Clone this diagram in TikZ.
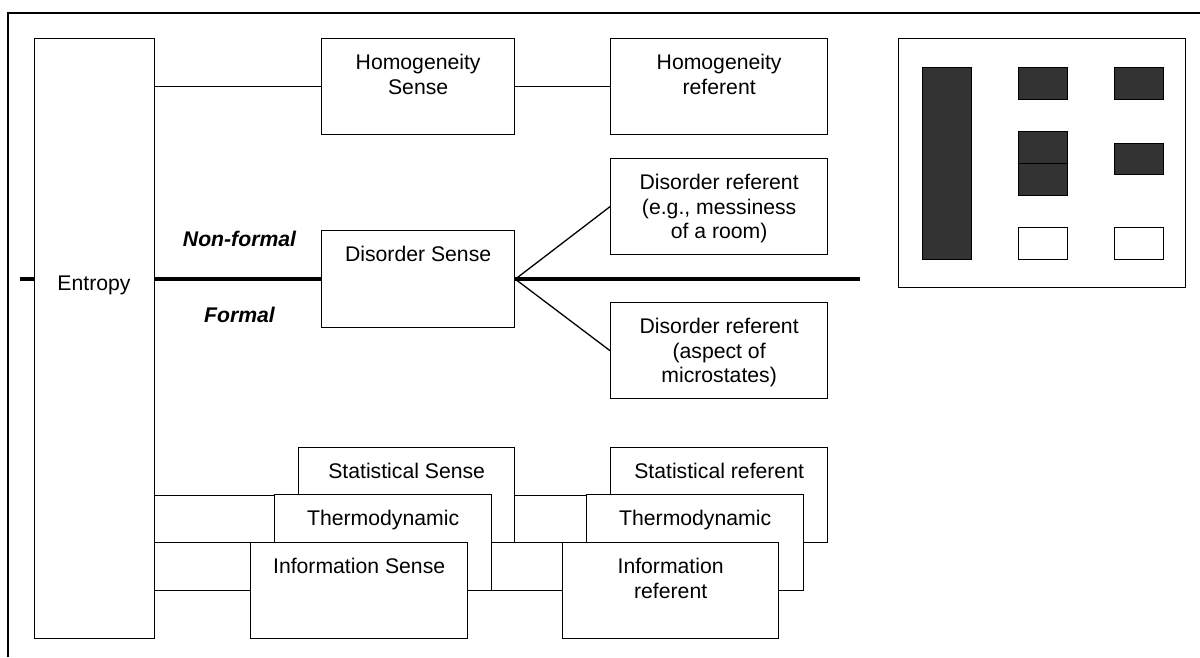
\documentclass[tikz,border=0pt]{standalone}
\usepackage{fontspec}
\setmainfont{Liberation Sans}
\definecolor{legdark}{HTML}{333333}
\begin{document}
\begin{tikzpicture}[x=1pt,y=-1pt,
  box/.style={draw, line width=1.3pt, fill=white, inner sep=0pt, anchor=north west},
  darkbox/.style={box, fill=legdark},
  lbl/.style={font=\fontsize{21.2}{24.4}\selectfont, align=center, inner sep=0pt, anchor=north},
  tag/.style={font=\fontsize{21.2}{24.4}\selectfont\bfseries\itshape, inner sep=0pt, anchor=base},
  link/.style={line width=1.3pt},
  divide/.style={line width=4.2pt}]
\useasboundingbox (0,0) rectangle (1200,657);

% outer frame
\draw[line width=1.5pt] (8,657) -- (8,13) -- (1200,13);

% main column and the disorder branch
\node[box, minimum width=120pt, minimum height=600pt] (ent) at (34,38) {};
\node[tag] (enttxt) at (94,290.6) {\mdseries\upshape Entropy};

\node[box, minimum width=193pt, minimum height=96pt] (hs) at (321,38) {};
\node[lbl] (hstxt) at ([yshift=-14.5pt]hs.north) {\strut Homogeneity\\Sense};
\node[box, minimum width=217pt, minimum height=96pt] (hr) at (610,38) {};
\node[lbl] (hrtxt) at ([yshift=-14.5pt]hr.north) {\strut Homogeneity\\referent};

\node[box, minimum width=217pt, minimum height=96pt] (dr1) at (610,158) {};
\node[lbl] (dr1txt) at ([yshift=-14.5pt]dr1.north) {\strut Disorder referent\\(e.g., messiness\\of a room)};
\node[box, minimum width=193pt, minimum height=97pt] (ds) at (321,230) {};
\node[lbl] (dstxt) at ([yshift=-14.5pt]ds.north) {\strut Disorder Sense};
\node[box, minimum width=217pt, minimum height=96pt] (dr2) at (610,302) {};
\node[lbl] (dr2txt) at ([yshift=-14.5pt]dr2.north) {\strut Disorder referent\\(aspect of\\microstates)};

\node[tag] (nf) at (239.5,246.6) {Non-formal};
\node[tag] (fm) at (239.5,322.6) {Formal};

% the formal / non-formal divide
\coordinate (divL) at (ds.west -| 20,0);
\coordinate (divR) at (ds.east -| 860,0);
\draw[divide] (divL) -- (divL -| ent.west);
\draw[divide] (ds.west -| ent.east) -- (ds.west);
\draw[divide] (ds.east) -- (divR);

\draw[link] (hs.west -| ent.east) -- (hs.west);
\draw[link] (hs.east) -- (hr.west);
\draw[link] (ds.east) -- (dr1.west);
\draw[link] (ds.east) -- (dr2.west);

% stacked senses and referents, back to front
\node[box, minimum width=216pt, minimum height=95pt] (ss) at (298,447) {};
\node[box, minimum width=217pt, minimum height=95pt] (sr) at (610,447) {};
\draw[link] (ss.west -| ent.east) -- (ss.west);
\draw[link] (ss.east) -- (sr.west);
\node[lbl] (sstxt) at ([yshift=-14.5pt]ss.north) {\strut Statistical Sense};
\node[lbl] (srtxt) at ([yshift=-14.5pt]sr.north) {\strut Statistical referent};

\node[box, minimum width=217pt, minimum height=96pt] (ts) at (274,494) {};
\node[box, minimum width=217pt, minimum height=96pt] (tr) at (586,494) {};
\draw[link] (ts.west -| ent.east) -- (ts.west);
\draw[link] (ts.east) -- (tr.west);
\node[lbl] (tstxt) at ([yshift=-14.5pt]ts.north) {\strut Thermodynamic};
\node[lbl] (trtxt) at ([yshift=-14.5pt]tr.north) {\strut Thermodynamic};

\node[box, minimum width=217pt, minimum height=96pt] (is) at (250,542) {};
\node[box, minimum width=216pt, minimum height=96pt] (ir) at (562,542) {};
\draw[link] (is.west -| ent.east) -- (is.west);
\draw[link] (is.east) -- (ir.west);
\node[lbl] (istxt) at ([yshift=-14.5pt]is.north) {\strut Information Sense};
\node[lbl] (irtxt) at ([yshift=-14.5pt]ir.north) {\strut Information\\referent};

% key panel
\node[box, minimum width=287pt, minimum height=249pt] (key) at (898,38) {};
\node[darkbox, minimum width=49pt, minimum height=192pt] (k1) at (922,67) {};
\node[darkbox, minimum width=49pt, minimum height=32pt] (k2) at (1018,67) {};
\node[darkbox, minimum width=49pt, minimum height=32pt] (k3) at (1114,67) {};
\node[darkbox, minimum width=49pt, minimum height=32pt] (k4) at (1018,131) {};
\node[darkbox, minimum width=49pt, minimum height=32pt] (k5) at (1018,163) {};
\node[darkbox, minimum width=49pt, minimum height=31pt] (k6) at (1114,143) {};
\node[box, minimum width=49pt, minimum height=32pt] (k7) at (1018,227) {};
\node[box, minimum width=49pt, minimum height=32pt] (k8) at (1114,227) {};
\end{tikzpicture}
\end{document}
